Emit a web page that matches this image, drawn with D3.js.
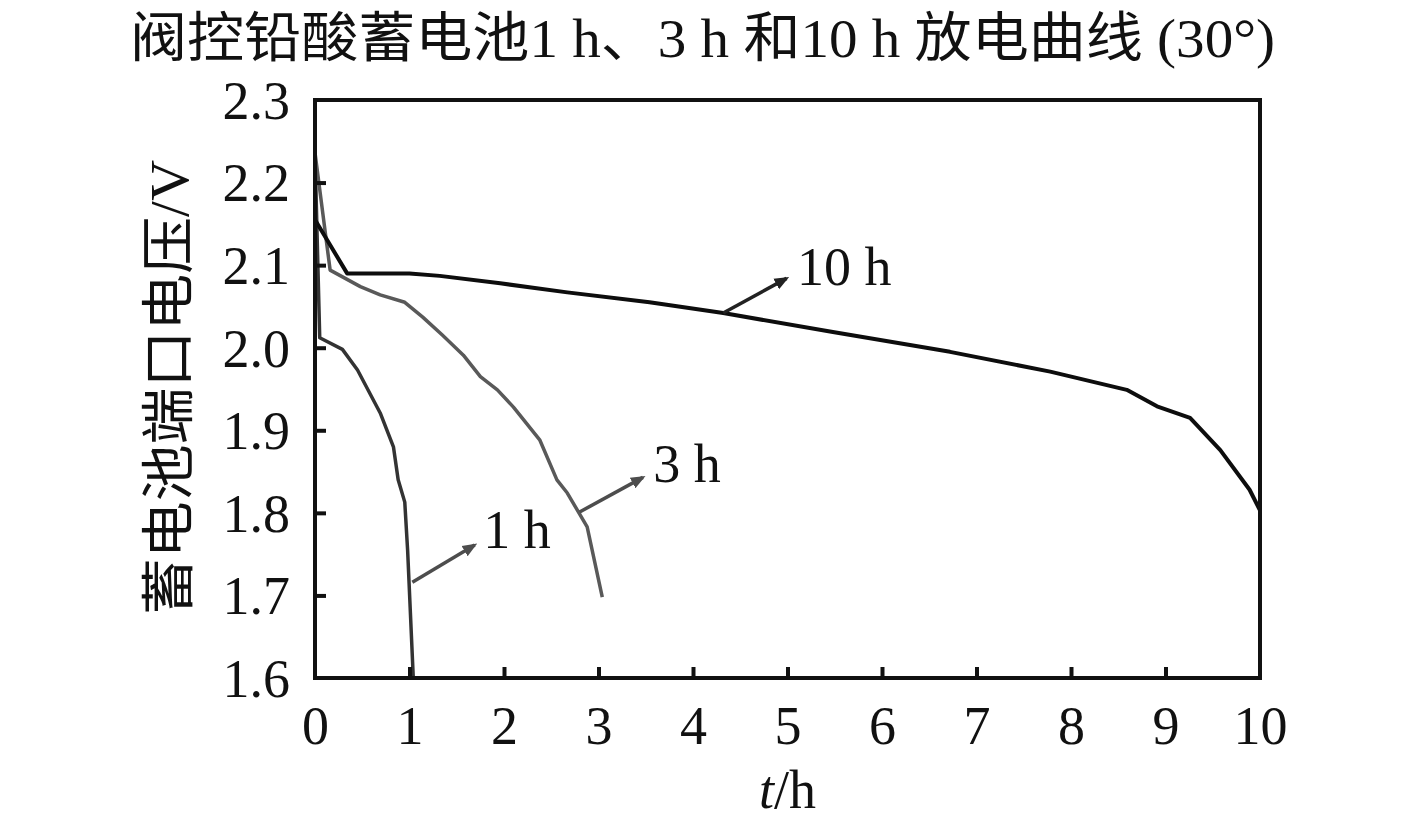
<!DOCTYPE html>
<html>
<head>
<meta charset="utf-8">
<script src="https://cdn.jsdelivr.net/npm/d3@7"></script>
<style>
    body { margin: 0; background: #fff; }
    text { font-family: "Liberation Serif", "Times New Roman", "Noto Sans CJK SC", serif; fill: #111; }
</style>
</head>
<body>
<div id="main"></div>
<script>
const ctx = {
    w: 1417,
    h: 829,
    left: 315,
    right: 1260,
    top: 100,
    bottom: 678
};

// discharge curves, t in h, voltage in V
const T_1H = [0, 0.05, 0.29, 0.45, 0.69, 0.83, 0.88, 0.95, 0.98, 1.04];
const V_1H = [2.236, 2.012, 1.998, 1.973, 1.921, 1.880, 1.840, 1.813, 1.755, 1.600];

const T_3H = [0, 0.16, 0.48, 0.69, 0.95, 1.14, 1.35, 1.57, 1.75, 1.93, 2.10, 2.38, 2.56, 2.67, 2.88, 3.04];
const V_3H = [2.236, 2.094, 2.074, 2.064, 2.055, 2.037, 2.015, 1.991, 1.965, 1.949, 1.928, 1.888, 1.840, 1.824, 1.783, 1.698];

const T_10H = [0, 0.34, 1.0, 1.32, 1.96, 2.67, 3.54, 4.32, 5.48, 6.72, 7.78, 8.59, 8.91, 9.26, 9.58, 9.89, 10.0];
const V_10H = [2.155, 2.090, 2.090, 2.087, 2.078, 2.067, 2.055, 2.042, 2.019, 1.995, 1.971, 1.949, 1.929, 1.915, 1.876, 1.828, 1.803];

const X_TICKS = [0, 1, 2, 3, 4, 5, 6, 7, 8, 9, 10];
const Y_TICKS = [1.6, 1.7, 1.8, 1.9, 2.0, 2.1, 2.2, 2.3];

// label arrows: [t0, v0] -> [t1, v1], label text at the arrow tip
const LABELS = ["1 h", "3 h", "10 h"];
const ARROW_FROM = [[1.03, 1.716], [2.80, 1.801], [4.32, 2.042]];
const ARROW_TO = [[1.69, 1.761], [3.47, 1.843], [4.99, 2.084]];
const LABEL_AT = [[1.78, 1.758], [3.58, 1.837], [5.10, 2.076]];

const SERIES = [
    { t: T_1H, v: V_1H, color: "#333", width: 3.5 },
    { t: T_3H, v: V_3H, color: "#595959", width: 3.5 },
    { t: T_10H, v: V_10H, color: "#0d0d0d", width: 4 }
];
const ARROW_COLORS = ["#4d4d4d", "#4d4d4d", "#222"];

const x = d3.scaleLinear().domain([0, 10]).range([ctx.left, ctx.right]);
const y = d3.scaleLinear().domain([1.6, 2.3]).range([ctx.bottom, ctx.top]);

function createViz() {
    let svgEl = d3.select("#main").append("svg")
        .attr("width", ctx.w)
        .attr("height", ctx.h);

    let defs = svgEl.append("defs");
    ARROW_COLORS.forEach(function (c, i) {
        defs.append("marker")
            .attr("id", "arrow" + i)
            .attr("viewBox", "0 0 10 10")
            .attr("refX", 8)
            .attr("refY", 5)
            .attr("markerWidth", 4.2)
            .attr("markerHeight", 4.2)
            .attr("markerUnits", "strokeWidth")
            .attr("orient", "auto")
            .append("path")
            .attr("d", "M0,1 L10,5 L0,9 Z")
            .attr("fill", c);
    });

    // title
    svgEl.append("text")
        .attr("x", 130)
        .attr("y", 57)
        .attr("textLength", 1145)
        .attr("lengthAdjust", "spacingAndGlyphs")
        .style("font-size", "54px")
        .text("阀控铅酸蓄电池1 h、3 h 和10 h 放电曲线 (30°)");

    // curves
    let line = d3.line()
        .x(d => x(d[0]))
        .y(d => y(d[1]));
    let curveG = svgEl.append("g").attr("id", "curves");
    SERIES.forEach(function (s) {
        curveG.append("path")
            .datum(s.t.map((t, i) => [t, s.v[i]]))
            .attr("d", line)
            .attr("fill", "none")
            .attr("stroke", s.color)
            .attr("stroke-width", s.width)
            .attr("stroke-linejoin", "round");
    });

    // axes with inward ticks
    let xAxis = d3.axisBottom(x).tickValues(X_TICKS).tickSize(-11).tickPadding(28)
        .tickFormat(d3.format("d"));
    let yAxis = d3.axisLeft(y).tickValues(Y_TICKS).tickSize(-11).tickPadding(25)
        .tickFormat(d3.format(".1f"));
    let gx = svgEl.append("g")
        .attr("transform", `translate(0,${ctx.bottom})`)
        .call(xAxis);
    let gy = svgEl.append("g")
        .attr("transform", `translate(${ctx.left},0)`)
        .call(yAxis);
    [gx, gy].forEach(function (g) {
        g.select(".domain").remove();
        g.selectAll(".tick line").attr("stroke", "#111").attr("stroke-width", 4);
        g.selectAll(".tick text")
            .attr("fill", "#111")
            .style("font-size", "54px")
            .style("font-family", "'Liberation Serif', serif");
    });
    gx.selectAll(".tick text").attr("dy", "0.71em");
    gy.selectAll(".tick text").attr("dy", "0.34em");
    // hide ticks at the frame edges
    gx.selectAll(".tick line").filter(d => d == 0 || d == 10).remove();
    gy.selectAll(".tick line").filter(d => d == 1.6 || d == 2.3).remove();

    // frame
    svgEl.append("rect")
        .attr("x", ctx.left)
        .attr("y", ctx.top)
        .attr("width", ctx.right - ctx.left)
        .attr("height", ctx.bottom - ctx.top)
        .attr("fill", "none")
        .attr("stroke", "#111")
        .attr("stroke-width", 4);

    // arrows and labels
    let annG = svgEl.append("g").attr("id", "labels");
    LABELS.forEach(function (lab, i) {
        annG.append("line")
            .attr("x1", x(ARROW_FROM[i][0]))
            .attr("y1", y(ARROW_FROM[i][1]))
            .attr("x2", x(ARROW_TO[i][0]))
            .attr("y2", y(ARROW_TO[i][1]))
            .attr("stroke", ARROW_COLORS[i])
            .attr("stroke-width", 3.5)
            .attr("marker-end", `url(#arrow${i})`);
        annG.append("text")
            .attr("x", x(LABEL_AT[i][0]))
            .attr("y", y(LABEL_AT[i][1]))
            .style("font-size", "54px")
            .text(lab);
    });

    // axis titles
    let xt = svgEl.append("text")
        .attr("x", x(5))
        .attr("y", 808)
        .attr("text-anchor", "middle")
        .style("font-size", "54px");
    xt.append("tspan").style("font-style", "italic").text("t");
    xt.append("tspan").text("/h");

    svgEl.append("text")
        .attr("transform", `translate(188,${(160 + 615) / 2}) rotate(-90)`)
        .attr("text-anchor", "middle")
        .attr("textLength", 455)
        .attr("lengthAdjust", "spacingAndGlyphs")
        .style("font-size", "54px")
        .text("蓄电池端口电压/V");
}

createViz();
</script>
</body>
</html>
